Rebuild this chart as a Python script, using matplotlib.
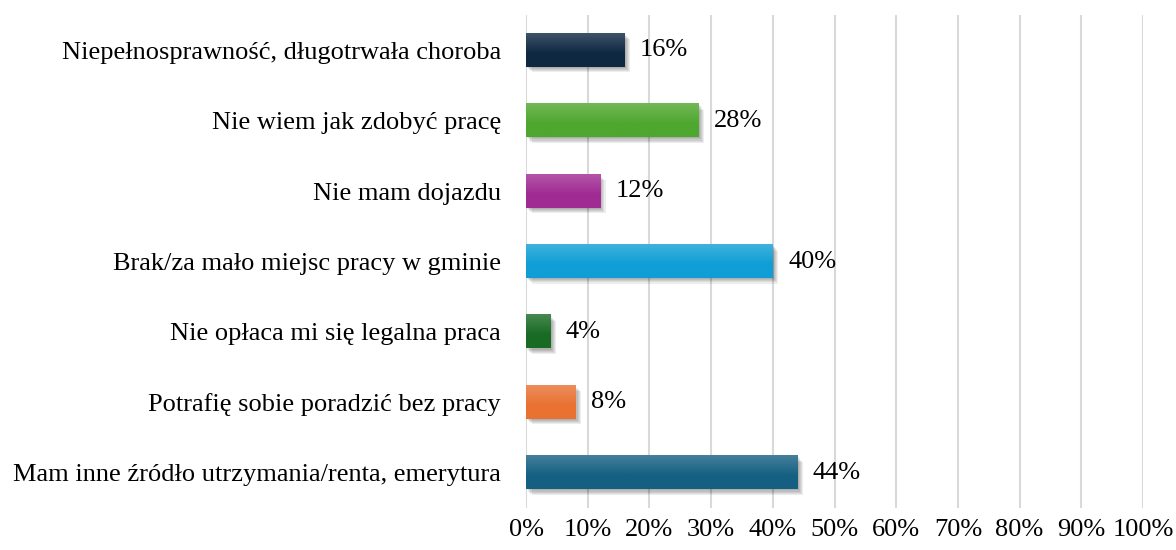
import matplotlib
matplotlib.use("Agg")
import matplotlib.pyplot as plt
import matplotlib.patheffects as pe
import numpy as np
from matplotlib.colors import to_rgb

categories = [
    "Niepełnosprawność, długotrwała choroba",
    "Nie wiem jak zdobyć pracę",
    "Nie mam dojazdu",
    "Brak/za mało miejsc pracy w gminie",
    "Nie opłaca mi się legalna praca",
    "Potrafię sobie poradzić bez pracy",
    "Mam inne źródło utrzymania/renta, emerytura",
]
values = [16, 28, 12, 40, 4, 8, 44]
colors = ["#0E2841", "#4EA72E", "#A02B93", "#0F9ED5", "#196B24", "#E97132", "#156082"]
xticks = list(range(0, 101, 10))
xticklabels = [f"{t}%" for t in xticks]

plt.rcParams["font.family"] = ["Liberation Serif", "DejaVu Serif"]
FS = 19

fig = plt.figure(figsize=(11.76, 5.5), dpi=100)
ax = fig.add_axes([526 / 1176, 1 - 508 / 550, (1143 - 526) / 1176, (508 - 15) / 550])

n = len(categories)
ypos = np.arange(n)
bar_h = 0.47

# soft drop shadow built from stacked faint offsets
shadow = [pe.SimplePatchShadow(offset=(d, -d), shadow_rgbFace="#000000", alpha=0.07)
          for d in (0.8, 1.6, 2.4, 3.2, 4.0)]
bars = ax.barh(ypos, values, height=bar_h, color=colors, zorder=3,
               path_effects=shadow + [pe.Normal()])

# light-to-base vertical gradient on each bar
for b, c in zip(bars, colors):
    base = np.array(to_rgb(c))
    light = base + (1 - base) * 0.2
    t = np.clip(np.linspace(0, 1, 64) / 0.6, 0, 1)[:, None]
    grad = light[None, :] * (1 - t) + base[None, :] * t
    grad = np.clip(grad[:, None, :], 0, 1)
    x0, y0 = b.get_x(), b.get_y()
    w, h = b.get_width(), b.get_height()
    ax.imshow(grad, extent=(x0, x0 + w, y0 + h, y0), aspect="auto",
              zorder=4, interpolation="bilinear")

for y, v in zip(ypos, values):
    ax.annotate(f"{v}%", (v, y), xytext=(11, 0), textcoords="offset points",
                va="center", ha="left", fontsize=FS, zorder=5)

ax.set_xlim(0, 100)
ax.set_ylim(n - 0.5, -0.5)
ax.set_yticks(ypos)
ax.set_yticklabels(categories, fontsize=FS)
ax.set_xticks(xticks)
ax.set_xticklabels(xticklabels, fontsize=FS)
ax.tick_params(axis="both", length=0)
ax.tick_params(axis="y", pad=18)
ax.tick_params(axis="x", pad=8)
ax.grid(axis="x", color="#d9d9d9", linewidth=1.5, zorder=0)
ax.set_axisbelow(True)
for s in ax.spines.values():
    s.set_visible(False)

fig.savefig("out.png", dpi=100, facecolor="white")
